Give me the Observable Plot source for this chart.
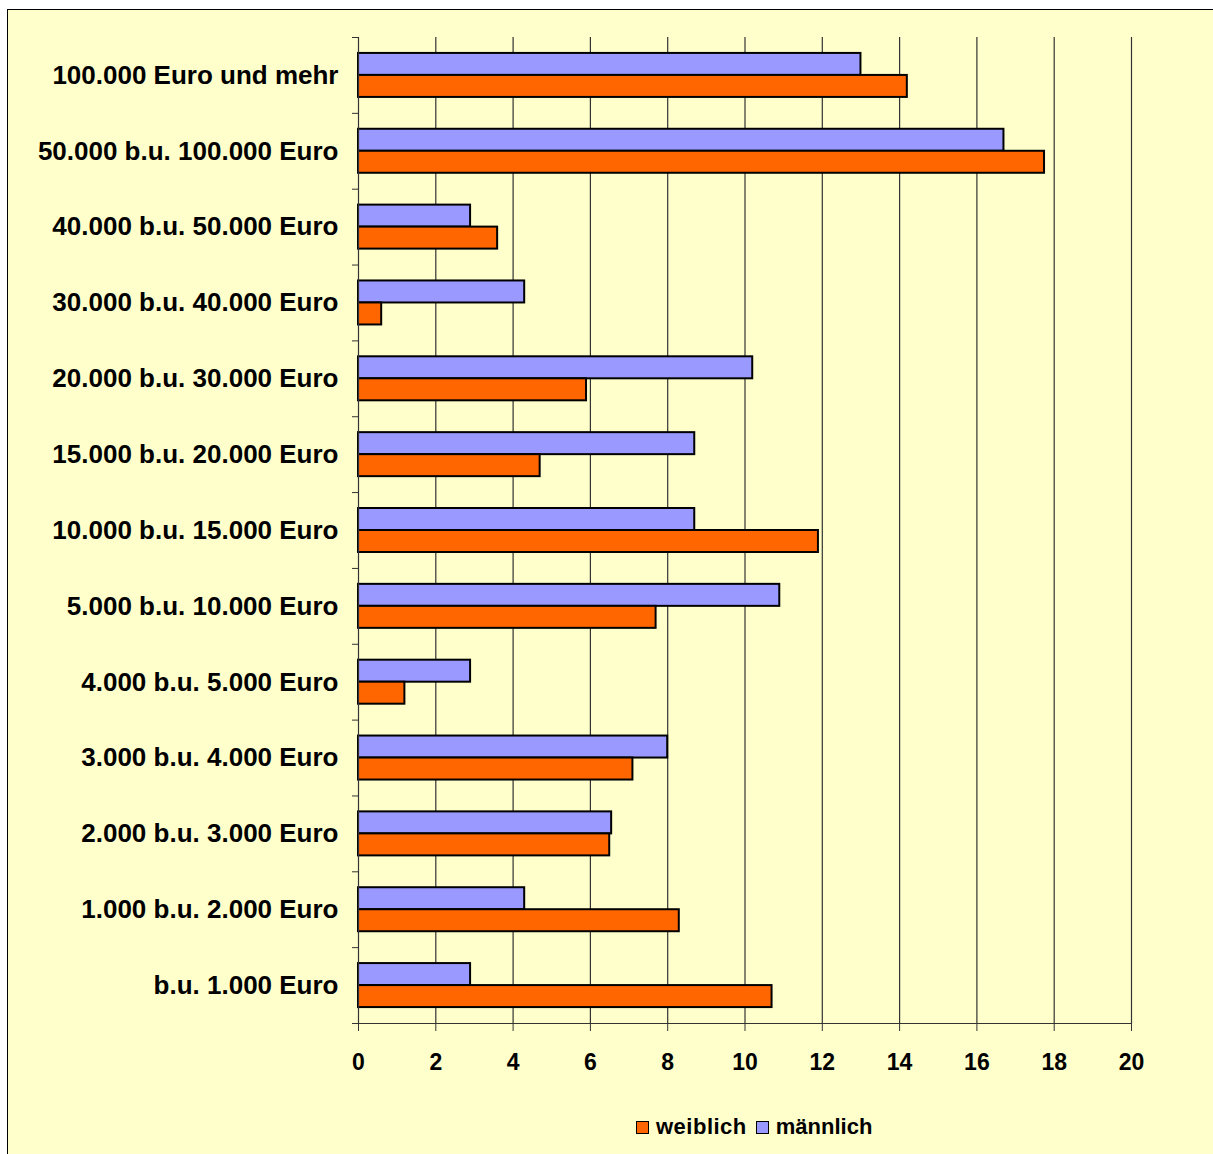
<!DOCTYPE html>
<html>
<head>
<meta charset="utf-8">
<script src="https://cdn.jsdelivr.net/npm/d3@7"></script>
<script src="https://cdn.jsdelivr.net/npm/@observablehq/plot@0.6"></script>
<style>
  html, body { margin: 0; padding: 0; background: #fff; }
  #frame { position: absolute; left: 7px; top: 9px; width: 1240px; height: 1170px;
           background: #FFFFCC; border: 1.5px solid #000; box-sizing: border-box; }
  #chart { position: absolute; left: 0; top: 0; }
  #legend { position: absolute; top: 1114px; left: 636px; display: flex; align-items: center;
            font-family: "Liberation Sans", Arial, sans-serif; font-weight: bold; font-size: 22px; color: #000; }
  .sw { display: inline-block; width: 11px; height: 11px; border: 1.5px solid #000; margin-right: 7px; }
  .item { display: flex; align-items: center; margin-right: 9px; }
</style>
</head>
<body>
<div id="frame"></div>
<div id="chart"></div>
<div id="legend"></div>
<script>
const categories = [
  "100.000 Euro und mehr",
  "50.000 b.u. 100.000 Euro",
  "40.000 b.u. 50.000 Euro",
  "30.000 b.u. 40.000 Euro",
  "20.000 b.u. 30.000 Euro",
  "15.000 b.u. 20.000 Euro",
  "10.000 b.u. 15.000 Euro",
  "5.000 b.u. 10.000 Euro",
  "4.000 b.u. 5.000 Euro",
  "3.000 b.u. 4.000 Euro",
  "2.000 b.u. 3.000 Euro",
  "1.000 b.u. 2.000 Euro",
  "b.u. 1.000 Euro"
];
const weiblich  = [14.2, 17.75, 3.6, 0.6, 5.9, 4.7, 11.9, 7.7, 1.2, 7.1, 6.5, 8.3, 10.7];
const maennlich = [13.0, 16.7, 2.9, 4.3, 10.2, 8.7, 8.7, 10.9, 2.9, 8.0, 6.55, 4.3, 2.9];
const seriesNames = ["weiblich", "männlich"];
const seriesColors = ["#FF6600", "#9999FF"];
const xTicks = [0, 2, 4, 6, 8, 10, 12, 14, 16, 18, 20];

const W = 1213, H = 1100, mT = 37, mB = 77, mL = 358, mR = 82;
const bw = (H - mT - mB) / categories.length;
const barH = 22;
const inset = (bw - barH) / 2;

const dataW = categories.map((c, i) => ({cat: c, value: weiblich[i]}));
const dataM = categories.map((c, i) => ({cat: c, value: maennlich[i]}));

const font = {fontFamily: "'Liberation Sans', Arial, sans-serif"};

const plot = Plot.plot({
  width: W, height: H,
  marginTop: mT, marginBottom: mB, marginLeft: mL, marginRight: mR,
  style: {background: "transparent", ...font, color: "#000"},
  x: {domain: [0, 20], axis: null, label: null},
  y: {domain: categories, padding: 0, round: false, axis: null, label: null},
  marks: [
    Plot.gridX(xTicks.slice(1), {stroke: "#333", strokeOpacity: 1, strokeWidth: 1.2}),
    Plot.barX(dataM, {y: "cat", x: "value", fill: seriesColors[1], stroke: "#000", strokeWidth: 2,
      insetTop: inset, insetBottom: inset, dy: -barH / 2}),
    Plot.barX(dataW, {y: "cat", x: "value", fill: seriesColors[0], stroke: "#000", strokeWidth: 2,
      insetTop: inset, insetBottom: inset, dy: barH / 2}),
    Plot.ruleX([0], {stroke: "#333", strokeWidth: 1.2}),
    Plot.frame({anchor: "bottom", stroke: "#333", strokeWidth: 1.2}),
    Plot.axisX({ticks: xTicks, tickSize: 8, tickPadding: 22, fontSize: 23, fontWeight: "bold",
      tickFormat: d => String(d), stroke: "#333", label: null}),
    Plot.axisY({tickSize: 0, tickPadding: 20, fontSize: 26, fontWeight: "bold", label: null}),
    Plot.axisY({tickSize: 6, tickFormat: () => "", dy: -bw / 2, stroke: "#333", label: null}),
    Plot.axisY({ticks: [categories[categories.length - 1]], tickSize: 6, tickFormat: () => "", dy: bw / 2, stroke: "#333", label: null})
  ]
});
document.getElementById("chart").appendChild(plot);

const legend = document.getElementById("legend");
seriesNames.forEach((name, i) => {
  const item = document.createElement("span");
  item.className = "item";
  const sw = document.createElement("span");
  sw.className = "sw";
  sw.style.background = seriesColors[i];
  const t = document.createElement("span");
  t.textContent = name;
  if (i === 0) t.style.letterSpacing = "0.5px";
  item.appendChild(sw);
  item.appendChild(t);
  legend.appendChild(item);
});
</script>
</body>
</html>
